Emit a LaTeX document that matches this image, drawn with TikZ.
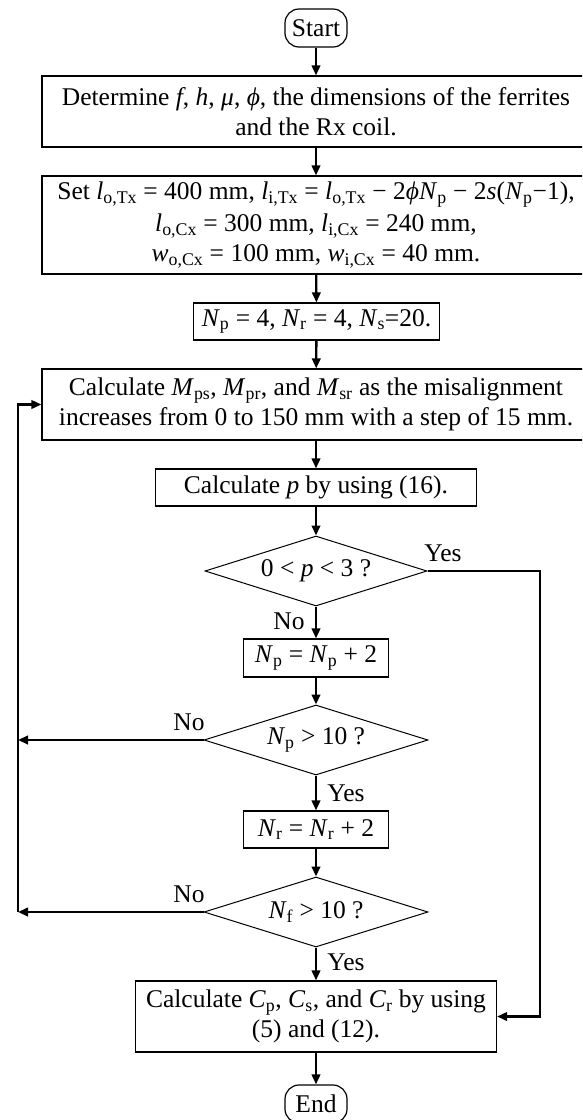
\documentclass[tikz,border=0pt]{standalone}
\usepackage{fontspec}
\setmainfont{Liberation Serif}
\usetikzlibrary{arrows.meta,shapes.geometric}
\newcommand\fsz{\fontsize{25.5}{30}\selectfont}
\newcommand\iv[2]{\textit{#1}\textsubscript{#2}}
\begin{document}
\begin{tikzpicture}[x=1pt,y=-1pt,
  box/.style={draw, line width=1.2pt, rectangle, inner sep=0pt, align=center, font=\fsz},
  term/.style={box, rounded corners=14pt, minimum width=62pt, minimum height=38pt},
  dec/.style={draw, line width=1pt, diamond, aspect=3.2, inner sep=0pt, minimum width=222pt, minimum height=70pt, font=\fsz},
  lbl/.style={inner sep=0pt, font=\fsz},
  conn/.style={line width=2.3pt, -{Triangle[length=10pt,width=8.5pt]}}]
\useasboundingbox (0,0) rectangle (582,1120);
\clip (0,0) rectangle (582,1120);
\node[term] (start) at (316,28) {Start};
\node[box, minimum width=548pt, minimum height=71pt] (b1) at (316,111.5)
  {Determine \textit{f}, \textit{h}, \textit{μ}, \textit{ϕ}, the dimensions of the ferrites\\ and the Rx coil.};
\node[box, minimum width=548pt, minimum height=98pt] (b2) at (316,225)
  {Set \iv{l}{o,Tx} = 400 mm, \iv{l}{i,Tx} = \iv{l}{o,Tx} − 2\textit{ϕ}\iv{N}{p} − 2\textit{s}(\iv{N}{p}−1),\\[2pt]
   \iv{l}{o,Cx} = 300 mm, \iv{l}{i,Cx} = 240 mm,\\
   \iv{w}{o,Cx} = 100 mm, \iv{w}{i,Cx} = 40 mm.};
\node[box, minimum width=246pt, minimum height=37pt] (b3) at (316.5,321.5)
  {\iv{N}{p} = 4, \iv{N}{r} = 4, \iv{N}{s}=20.};
\node[box, minimum width=548pt, minimum height=71pt] (b4) at (316,404.5)
  {Calculate \iv{M}{ps}, \iv{M}{pr}, and \iv{M}{sr} as the misalignment\\ increases from 0 to 150 mm with a step of 15 mm.};
\node[box, minimum width=321pt, minimum height=37pt] (b5) at (316,487.5)
  {Calculate \textit{p} by using (16).};
\node[dec] (d1) at (316,571) {0 {\textless} \textit{p} {\textless} 3 ?};
\node[box, minimum width=145pt, minimum height=38pt] (b6) at (316,658)
  {\iv{N}{p} = \iv{N}{p} + 2};
\node[dec, minimum width=224pt] (d2) at (316,740) {\iv{N}{p} {\textgreater} 10 ?};
\node[box, minimum width=145pt, minimum height=37pt] (b7) at (316,829.5)
  {\iv{N}{r} = \iv{N}{r} + 2};
\node[dec, minimum width=224pt] (d3) at (316,912) {\iv{N}{f} {\textgreater} 10 ?};
\node[box, minimum width=361pt, minimum height=71pt] (b8) at (316,1016.5)
  {Calculate \iv{C}{p}, \iv{C}{s}, and \iv{C}{r} by using\\ (5) and (12).};
\node[term] (end) at (316,1104) {End};
\node[lbl] (y1) at (443,553) {Yes};
\node[lbl] (n1) at (289,621) {No};
\node[lbl] (n2) at (189,722) {No};
\node[lbl] (y2) at (346,793) {Yes};
\node[lbl] (n3) at (189,894) {No};
\node[lbl] (y3) at (346,962) {Yes};
\coordinate (rx) at (540,571);
\coordinate (lx2) at (18,740);
\coordinate (lx3) at (18,912);
\draw[conn] (start) -- (b1);
\draw[conn] (b1) -- (b2);
\draw[conn] (b2) -- (b3);
\draw[conn] (b3) -- (b4);
\draw[conn] (b4) -- (b5);
\draw[conn] (b5) -- (d1);
\draw[conn] (d1) -- (b6);
\draw[conn] (b6) -- (d2);
\draw[conn] (d2) -- (b7);
\draw[conn] (b7) -- (d3);
\draw[conn] (d3) -- (b8);
\draw[conn] (b8) -- (end);
\draw[conn] (d1.east) -- (rx) |- (b8.east);
\draw[conn] (d2.west) -- (lx2);
\draw[conn] (d3.west) -- (lx3);
\draw[conn] (lx3) |- (b4.west);
\end{tikzpicture}
\end{document}
